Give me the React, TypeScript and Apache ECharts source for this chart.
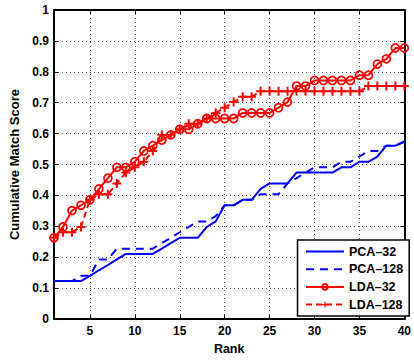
import React, { useEffect, useRef } from "react";
import * as echarts from "echarts";

const ranks = [1, 2, 3, 4, 5, 6, 7, 8, 9, 10, 11, 12, 13, 14, 15, 16, 17, 18, 19, 20, 21, 22, 23, 24, 25, 26, 27, 28, 29, 30, 31, 32, 33, 34, 35, 36, 37, 38, 39, 40];
const xTicks = [5, 10, 15, 20, 25, 30, 35, 40];
const seriesNames = ["PCA–32", "PCA–128", "LDA–32", "LDA–128"];

const pca32 = [0.123, 0.123, 0.123, 0.123, 0.140, 0.158, 0.175, 0.193, 0.211, 0.211, 0.211, 0.211, 0.228, 0.246, 0.263, 0.263, 0.263, 0.298, 0.316, 0.368, 0.368, 0.386, 0.386, 0.421, 0.439, 0.439, 0.439, 0.474, 0.474, 0.474, 0.474, 0.474, 0.491, 0.491, 0.509, 0.509, 0.526, 0.561, 0.561, 0.574];
const pca128 = [0.123, 0.123, 0.123, 0.140, 0.140, 0.193, 0.193, 0.228, 0.228, 0.228, 0.228, 0.228, 0.246, 0.263, 0.281, 0.298, 0.316, 0.316, 0.333, 0.368, 0.368, 0.386, 0.386, 0.404, 0.404, 0.404, 0.439, 0.456, 0.474, 0.491, 0.491, 0.491, 0.509, 0.509, 0.526, 0.544, 0.544, 0.561, 0.561, 0.574];
const lda32 = [0.263, 0.298, 0.351, 0.368, 0.386, 0.421, 0.456, 0.491, 0.491, 0.509, 0.544, 0.561, 0.579, 0.596, 0.614, 0.614, 0.632, 0.649, 0.649, 0.649, 0.649, 0.667, 0.667, 0.667, 0.667, 0.684, 0.702, 0.754, 0.754, 0.772, 0.772, 0.772, 0.772, 0.772, 0.789, 0.789, 0.825, 0.842, 0.877, 0.877];
const lda128 = [0.263, 0.281, 0.281, 0.298, 0.386, 0.404, 0.404, 0.439, 0.474, 0.491, 0.509, 0.544, 0.596, 0.596, 0.614, 0.632, 0.632, 0.649, 0.667, 0.684, 0.702, 0.719, 0.719, 0.737, 0.737, 0.737, 0.737, 0.737, 0.737, 0.737, 0.737, 0.737, 0.737, 0.737, 0.737, 0.754, 0.754, 0.754, 0.754, 0.754];

const FONT = "'Liberation Sans', Arial, Helvetica, sans-serif";
const PLUS = "path://M3.9,0H6.1V3.9H10V6.1H6.1V10H3.9V6.1H0V3.9H3.9Z";

const pairs = (ys: number[]) => ranks.map((r, i) => [r, ys[i]]);

export default function App() {
  const ref = useRef<HTMLDivElement>(null);
  useEffect(() => {
    if (!ref.current) return;
    const chart = echarts.init(ref.current, null, { renderer: "svg" });
    const frame = { show: true, onZero: false, lineStyle: { color: "#000", width: 2 } };
    const grid = { show: true, lineStyle: { color: "#555", width: 1, type: [1, 3] } };
    const labelStyle = { fontWeight: "bold", fontSize: 12, color: "#000", fontFamily: FONT };
    chart.setOption({
      animation: false,
      backgroundColor: "#fff",
      textStyle: { fontFamily: FONT },
      grid: { left: 51, right: 6.5, top: 10, bottom: 36.7, containLabel: false },
      xAxis: [
        {
          type: "value", min: 1, max: 40, position: "bottom",
          name: "Rank", nameLocation: "middle", nameGap: 20,
          nameTextStyle: { ...labelStyle, fontSize: 12.5 },
          axisLine: frame,
          axisTick: { show: true, inside: true, length: 4, customValues: xTicks, lineStyle: { color: "#000", width: 1 } },
          axisLabel: { ...labelStyle, customValues: xTicks, margin: 6 },
          splitLine: grid,
        },
        {
          type: "value", min: 1, max: 40, position: "top",
          axisLine: frame,
          axisTick: { show: true, inside: true, length: 4, customValues: xTicks, lineStyle: { color: "#000", width: 1 } },
          axisLabel: { show: false, customValues: xTicks },
          splitLine: { show: false },
        },
      ],
      yAxis: [
        {
          type: "value", min: 0, max: 1, interval: 0.1, position: "left",
          name: "Cumulative Match Score", nameLocation: "middle", nameGap: 33,
          nameTextStyle: { ...labelStyle, fontSize: 13 },
          axisLine: frame,
          axisTick: { show: true, inside: true, length: 4, lineStyle: { color: "#000", width: 1 } },
          axisLabel: { ...labelStyle, margin: 5 },
          splitLine: grid,
        },
        {
          type: "value", min: 0, max: 1, interval: 0.1, position: "right",
          axisLine: frame,
          axisTick: { show: true, inside: true, length: 4, lineStyle: { color: "#000", width: 1 } },
          axisLabel: { show: false },
          splitLine: { show: false },
        },
      ],
      legend: {
        orient: "vertical", left: 297.5, top: 240,
        padding: [5, 6, 5, 7.5],
        itemWidth: 38, itemHeight: 7, itemGap: 4.7,
        backgroundColor: "#fff", borderColor: "#000", borderWidth: 1.5, borderRadius: 0,
        textStyle: { ...labelStyle, fontSize: 12.5, lineHeight: 12 },
        data: [
          { name: seriesNames[0], itemStyle: { opacity: 0 } },
          { name: seriesNames[1], itemStyle: { opacity: 0 } },
          { name: seriesNames[2] },
          { name: seriesNames[3] },
        ],
      },
      series: [
        {
          name: seriesNames[0], type: "line", data: pairs(pca32), symbol: "none", clip: false,
          lineStyle: { color: "#0000ff", width: 2 }, itemStyle: { color: "#0000ff" },
        },
        {
          name: seriesNames[1], type: "line", data: pairs(pca128), symbol: "none", clip: false,
          lineStyle: { color: "#0000ff", width: 2, type: [8, 6] }, itemStyle: { color: "#0000ff" },
        },
        {
          name: seriesNames[2], type: "line", data: pairs(lda32), symbol: "circle", symbolSize: 8, clip: false,
          lineStyle: { color: "#ff0000", width: 2 },
          itemStyle: { color: "rgba(255,255,255,0)", borderColor: "#ff0000", borderWidth: 1.7 },
        },
        {
          name: seriesNames[3], type: "line", data: pairs(lda128), symbol: PLUS, symbolSize: 9, clip: false,
          lineStyle: { color: "#ff0000", width: 2, type: [6, 4] },
          itemStyle: { color: "#ff0000", borderWidth: 0 },
        },
      ],
    });
    return () => chart.dispose();
  }, []);
  return (
    <div
      ref={ref}
      style={{ position: "absolute", left: 0, top: 0, width: 414, height: 360, background: "#fff" }}
    />
  );
}
